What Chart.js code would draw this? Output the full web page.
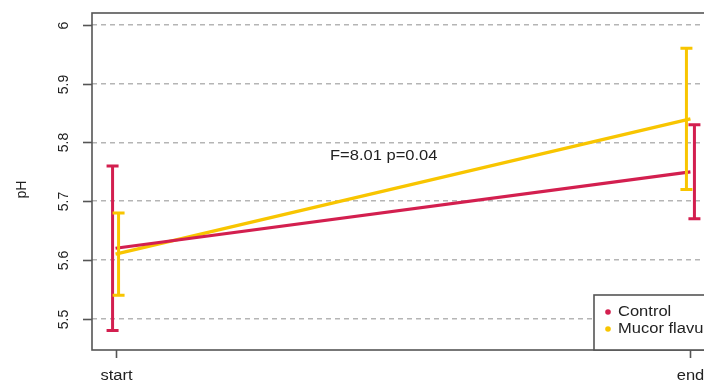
<!DOCTYPE html>
<html>
<head>
<meta charset="utf-8">
<script src="https://cdn.jsdelivr.net/npm/chart.js@4/dist/chart.umd.min.js"></script>
<style>
  html, body { margin: 0; padding: 0; overflow: hidden; background: #fff; }
  #wrap { width: 730px; height: 383px; }
</style>
</head>
<body>
<div id="wrap"><canvas id="chart" width="730" height="383"></canvas></div>
<script>
// data
const categories = ['start', 'end'];
const seriesNames = ['Control', 'Mucor flavus'];
const controlMean = [5.62, 5.75];
const controlLow = [5.48, 5.67];
const controlHigh = [5.76, 5.83];
const mucorMean = [5.61, 5.84];
const mucorLow = [5.54, 5.72];
const mucorHigh = [5.68, 5.96];
const yTicks = [5.5, 5.6, 5.7, 5.8, 5.9, 6];
const annotationText = 'F=8.01 p=0.04';

const colors = ['#d31f4f', '#f8c500'];
const FONT = '"Liberation Sans", Arial, sans-serif';

function toPoints(values) {
    return values.map((v, i) => ({ x: i, y: v }));
}

// draws stretched text, the reference looks a little wider than tall
function stretchText(ctx, text, x, y, size, align) {
    ctx.save();
    ctx.font = size + 'px ' + FONT;
    ctx.textAlign = align || 'left';
    ctx.textBaseline = 'middle';
    ctx.translate(x, y);
    ctx.scale(1.18, 1);
    ctx.fillText(text, 0, 0);
    ctx.restore();
}

const decorPlugin = {
    id: 'decor',
    afterDatasetsDraw(chart) {
        const ctx = chart.ctx;
        const xs = chart.scales.x;
        const ys = chart.scales.y;
        const area = chart.chartArea;

        // error bars, slightly dodged
        const bars = [
            { low: controlLow, high: controlHigh, dodge: [-3, 4] },
            { low: mucorLow, high: mucorHigh, dodge: [3, -4] }
        ];
        bars.forEach((b, si) => {
            ctx.save();
            ctx.strokeStyle = colors[si];
            ctx.lineWidth = 3;
            categories.forEach((c, i) => {
                const px = xs.getPixelForValue(i) + b.dodge[i];
                const top = ys.getPixelForValue(b.high[i]);
                const bot = ys.getPixelForValue(b.low[i]);
                ctx.beginPath();
                ctx.moveTo(px, top); ctx.lineTo(px, bot);
                ctx.moveTo(px - 6, top); ctx.lineTo(px + 6, top);
                ctx.moveTo(px - 6, bot); ctx.lineTo(px + 6, bot);
                ctx.stroke();
            });
            ctx.restore();
        });
    },
    afterDraw(chart) {
        const ctx = chart.ctx;
        const xs = chart.scales.x;
        const ys = chart.scales.y;
        const area = chart.chartArea;

        ctx.save();
        ctx.strokeStyle = '#555';
        ctx.lineWidth = 1.6;
        ctx.strokeRect(area.left, area.top, area.right - area.left, area.bottom - area.top);

        // y ticks and rotated labels
        ctx.fillStyle = '#222';
        yTicks.forEach(t => {
            const py = Math.round(ys.getPixelForValue(t)) + 0.5;
            ctx.beginPath();
            ctx.moveTo(area.left - 9, py); ctx.lineTo(area.left, py);
            ctx.stroke();
            ctx.save();
            ctx.translate(area.left - 28, py);
            ctx.rotate(-Math.PI / 2);
            ctx.font = '14px ' + FONT;
            ctx.textAlign = 'center';
            ctx.textBaseline = 'middle';
            ctx.fillText(String(t), 0, 0);
            ctx.restore();
        });

        // axis title
        ctx.save();
        ctx.translate(22, (area.top + area.bottom) / 2 + 8);
        ctx.rotate(-Math.PI / 2);
        ctx.font = '14px ' + FONT;
        ctx.textAlign = 'center';
        ctx.textBaseline = 'middle';
        ctx.fillText('pH', 0, 0);
        ctx.restore();

        // x ticks and labels
        categories.forEach((c, i) => {
            const px = Math.round(xs.getPixelForValue(i)) + 0.5;
            ctx.beginPath();
            ctx.moveTo(px, area.bottom); ctx.lineTo(px, area.bottom + 8);
            ctx.stroke();
            stretchText(ctx, c, px, area.bottom + 26, 14, 'center');
        });

        // annotation
        stretchText(ctx, annotationText, 330, 156, 14, 'left');

        // legend
        const lx = 594, ly = 295;
        ctx.fillStyle = '#fff';
        ctx.fillRect(lx, ly, area.right + 40 - lx, area.bottom - ly);
        ctx.strokeStyle = '#555';
        ctx.strokeRect(lx, ly, area.right + 40 - lx, area.bottom - ly);
        seriesNames.forEach((name, i) => {
            const cy = ly + 17 + i * 17;
            ctx.fillStyle = colors[i];
            ctx.beginPath();
            ctx.arc(lx + 14, cy, 2.8, 0, Math.PI * 2);
            ctx.fill();
            ctx.fillStyle = '#222';
            stretchText(ctx, name, lx + 24, cy, 14, 'left');
        });
        ctx.restore();
    }
};

const datasets = [
    { label: seriesNames[0], data: toPoints(controlMean), borderColor: colors[0] },
    { label: seriesNames[1], data: toPoints(mucorMean), borderColor: colors[1] }
].map(d => Object.assign(d, { borderWidth: 3.2, pointRadius: 0, fill: false, tension: 0 }));

new Chart(document.getElementById('chart'), {
    type: 'line',
    data: { datasets: datasets },
    options: {
        responsive: false,
        animation: false,
        layout: { padding: { left: 92, top: 13, right: 16, bottom: 33 } },
        plugins: { legend: { display: false }, tooltip: { enabled: false } },
        scales: {
            x: {
                type: 'linear',
                min: -0.041,
                max: 1.041,
                display: false
            },
            y: {
                type: 'linear',
                min: 5.447,
                max: 6.02,
                afterBuildTicks: scale => { scale.ticks = yTicks.map(v => ({ value: v })); },
                ticks: { display: false },
                grid: { color: '#b5b5b5', lineWidth: 1.5, drawTicks: false },
                border: { display: false, dash: [5, 4] }
            }
        }
    },
    plugins: [decorPlugin]
});
</script>
</body>
</html>
